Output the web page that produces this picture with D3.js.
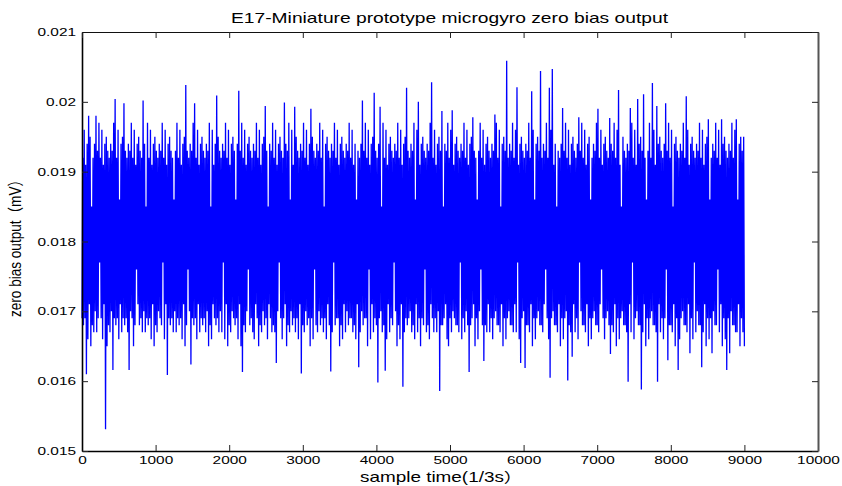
<!DOCTYPE html>
<html>
<head>
<meta charset="utf-8">
<script src="https://cdn.jsdelivr.net/npm/d3@7"></script>
<style>
  body { margin: 0; background: #fff; }
  text { font-family: "Liberation Sans", Arial, "Noto Sans CJK SC", sans-serif; fill: #000; }
</style>
</head>
<body>
<div id="chart"></div>
<script>
// zero bias output (mV), one reading every 10 samples
const sampleStep = 10;
const biasOutput = [
  .0169,.0192,.0168,.0196,.0169,.0191,.0161,.0194,.0166,.0198,.0171,.0195,.0165,.0185,.0168,.0192,.0167,.0194,.0170,.0198,
  .0167,.0193,.0169,.0197,.0177,.0192,.0169,.0196,.0166,.0191,.0171,.0194,.01531,.0195,.0165,.0193,.0168,.0192,.0167,.0194,
  .0170,.0193,.01616,.0197,.0169,.02004,.0168,.0192,.0169,.0196,.0166,.0186,.0171,.0194,.0167,.0195,.0169,.01998,.0168,.0193,
  .0169,.0192,.0167,.0194,.01616,.0193,.0170,.0197,.0169,.0192,.0165,.0196,.0168,.0191,.0176,.0194,.0171,.0195,.0168,.0193,
  .0169,.0192,.0167,.02002,.0170,.0194,.0167,.0185,.0169,.0197,.0168,.0192,.0169,.0196,.0166,.0191,.0171,.0194,.0165,.0195,
  .0168,.0193,.0167,.0192,.0170,.0194,.0169,.0193,.0168,.0197,.0177,.0192,.0166,.0196,.0171,.0191,.01609,.0194,.0169,.0195,
  .0168,.0193,.0169,.0192,.0167,.0186,.0170,.0193,.0167,.0197,.0169,.0192,.0168,.0196,.0169,.0191,.0166,.0194,.0171,.0195,
  .0165,.02024,.0168,.0193,.0176,.0192,.0170,.0194,.01624,.0193,.0169,.0197,.0168,.01998,.0169,.0192,.0166,.0196,.0171,.0191,
  .0167,.0194,.0169,.0195,.0168,.0193,.0169,.0192,.0167,.0194,.0170,.0193,.0165,.0197,.0168,.0185,.0166,.0196,.0171,.0191,
  .0169,.0194,.0168,.02009,.0169,.0195,.0167,.0193,.0170,.0192,.0167,.0194,.0177,.0193,.0166,.0197,.0171,.0192,.0165,.0196,
  .0168,.0191,.0167,.0194,.0170,.0195,.0169,.0193,.0168,.0186,.0169,.0194,.0166,.02016,.0171,.0193,.0165,.0197,.01613,.0192,
  .0168,.0196,.0167,.0191,.0170,.0194,.0176,.0195,.0168,.0193,.0169,.0192,.0167,.0194,.0166,.0193,.0171,.0197,.0169,.0192,
  .0165,.0196,.0168,.0191,.0167,.0194,.0170,.0195,.0168,.01994,.0169,.0193,.0166,.0185,.0171,.0194,.0169,.0193,.0167,.0197,
  .0168,.0192,.0167,.0196,.01626,.0191,.0170,.0194,.0177,.0195,.0169,.0193,.0166,.0192,.0169,.01999,.0171,.0194,.0165,.0193,
  .0168,.0197,.0167,.0186,.0170,.0196,.0168,.0191,.0169,.01993,.0167,.0195,.0169,.0193,.0166,.0192,.0171,.0194,.01611,.0193,
  .0168,.0197,.0167,.0192,.0170,.0196,.0168,.0191,.0169,.0194,.0165,.0199,.0169,.0195,.0166,.0193,.0176,.0192,.0168,.0194,
  .0167,.0193,.0170,.0197,.0168,.0192,.0169,.0196,.0167,.0185,.0169,.0194,.0166,.0195,.0171,.0193,.0168,.0192,.01614,.0194,
  .0167,.0193,.0177,.0197,.0168,.0192,.0169,.0196,.0169,.0191,.0165,.0194,.0168,.0195,.0166,.0193,.0171,.0192,.0167,.0194,
  .0170,.0193,.0168,.0197,.0169,.0192,.0169,.0196,.0167,.0191,.0168,.0194,.0166,.0186,.0171,.0193,.0162,.0192,.0167,.0194,
  .0170,.02002,.0168,.0193,.0169,.0197,.0169,.0192,.0165,.0196,.0176,.0191,.0166,.0194,.0171,.0195,.0167,.02013,.0169,.0193,
  .0168,.0192,.01598,.0194,.0169,.01993,.0170,.0185,.0167,.0197,.0168,.0192,.01615,.0196,.0166,.0191,.0171,.0194,.0167,.0195,
  .0169,.0193,.0168,.0192,.0177,.0194,.0170,.0193,.0165,.0197,.0168,.0192,.0166,.0196,.0171,.0191,.01592,.0194,.0167,.0195,
  .0169,.0202,.0168,.0193,.0169,.0192,.0170,.0194,.0167,.0193,.0168,.0197,.0166,.0186,.0171,.0196,.0167,.0200,.0169,.0191,
  .0165,.0194,.0169,.0195,.0168,.0193,.0176,.0192,.0167,.0194,.0168,.0193,.0166,.0197,.0171,.02028,.0169,.0192,.0167,.0196,
  .0169,.0191,.0167,.0194,.0170,.0195,.01586,.0193,.0168,.01987,.0168,.0185,.0169,.0194,.0171,.0193,.0166,.0197,.0165,.0192,
  .0169,.0196,.0167,.01988,.0170,.0191,.0169,.0194,.0168,.0195,.0168,.0193,.0167,.0192,.0177,.0194,.0166,.0193,.0169,.0197,
  .0167,.0192,.0170,.0196,.0168,.0191,.01613,.0194,.0168,.0195,.0169,.01978,.0171,.0193,.0165,.0192,.0169,.0186,.0166,.0193,
  .0170,.0197,.0176,.0192,.0168,.0196,.01629,.0191,.0168,.0194,.0167,.0195,.0171,.0193,.0167,.0192,.0169,.0194,.0166,.0193,
  .0169,.01982,.0170,.0197,.0168,.0192,.0168,.0196,.0167,.0185,.0171,.0194,.0165,.0195,.0169,.0193,.0166,.02059,.0169,.0192,
  .0170,.0194,.0168,.0193,.0168,.0197,.0167,.0192,.0171,.0196,.0167,.02021,.0177,.0191,.0166,.0194,.01626,.0195,.0169,.0193,
  .0170,.0192,.01619,.0194,.0168,.0193,.0168,.0197,.0167,.0192,.0171,.02015,.0165,.0196,.0169,.0186,.0166,.0194,.0169,.0195,
  .0170,.0193,.0168,.02044,.0168,.0192,.0167,.0194,.0171,.0193,.0176,.0197,.0169,.0192,.0166,.0202,.01605,.0196,.0169,.02047,
  .0170,.0191,.0168,.0194,.0168,.0185,.0167,.0193,.0171,.0192,.0165,.0194,.0169,.01991,.0166,.0193,.0169,.0197,.0170,.0192,
  .01601,.0196,.0168,.0191,.0167,.0194,.01635,.0195,.0171,.0193,.0167,.0192,.0169,.0194,.0166,.01978,.0177,.0193,.0170,.0197,
  .0168,.0192,.0168,.0196,.0167,.0191,.0171,.0194,.0165,.0195,.0169,.0186,.0166,.0192,.0169,.0194,.0170,.0193,.0168,.0197,
  .0168,.0199,.0167,.0192,.0171,.0196,.0176,.0191,.0169,.0194,.0166,.0195,.0169,.0193,.0170,.0192,.0168,.01977,.01639,.0194,
  .0168,.0193,.0167,.0197,.0171,.0192,.0165,.0196,.0169,.02017,.0166,.0191,.0169,.0185,.0170,.0195,.0168,.0193,.0168,.0192,
  .0167,.0194,.01599,.0193,.0171,.01991,.0167,.0197,.0177,.0192,.0166,.0196,.0169,.0191,.0170,.02004,.0168,.0194,.0168,.0195,
  .01588,.0193,.0167,.02011,.0171,.0192,.0165,.0186,.0169,.0193,.0166,.0197,.0169,.0192,.0170,.02027,.0168,.0196,.0168,.0191,
  .0167,.01994,.01599,.0194,.0171,.0195,.0167,.0193,.0169,.0192,.0166,.0194,.0169,.01998,.0176,.0193,.0163,.0197,.0168,.0192,
  .0168,.0196,.0167,.0185,.0171,.0194,.0165,.0195,.0169,.0193,.01616,.0192,.0166,.0194,.0169,.0193,.0170,.0197,.0168,.0192,
  .0168,.02008,.0167,.0196,.0171,.0191,.0164,.0194,.0169,.0195,.0166,.0193,.0177,.0192,.0167,.0194,.0170,.0193,.0168,.0197,
  .0168,.0192,.0162,.0196,.0167,.0191,.0171,.0194,.0165,.0195,.0169,.01975,.0166,.0186,.0169,.0192,.0164,.0194,.0170,.0193,
  .0168,.0197,.0168,.0192,.0176,.0196,.0167,.0191,.0171,.01975,.0165,.0194,.0169,.0195,.0166,.0193,.01616,.0192,.0169,.0194,
  .0164,.0193,.0170,.0197,.0168,.0192,.0168,.0196,.0167,.01975,.0167,.0186,.0171,.0194,.0165,.0195,.0169,.0193,.0167,.0195,
  .0165
];

const xTicks = [0, 1000, 2000, 3000, 4000, 5000, 6000, 7000, 8000, 9000, 10000];
const yTicks = [0.015, 0.016, 0.017, 0.018, 0.019, 0.02, 0.021];
const yTickLabels = ["0.015", "0.016", "0.017", "0.018", "0.019", "0.02", "0.021"];

const titleText = "E17-Miniature prototype microgyro zero bias output";
const xLabelText = "sample time(1/3s）";
const yLabelText = "zero bias output（mV）";

// layout
const W = 842, H = 486;
const margin = { top: 32, right: 24, bottom: 35, left: 82 };
const width = W - margin.left - margin.right,
    height = H - margin.top - margin.bottom;
const sx = 1.4; // the original picture is stretched sideways

const svg = d3.select("#chart")
    .append("svg")
    .attr("width", W)
    .attr("height", H);

const g = svg.append("g")
    .attr("transform", `translate(${margin.left},${margin.top})`);

const x = d3.scaleLinear().domain([0, 10000]).range([0, width]);
const y = d3.scaleLinear().domain([0.015, 0.021]).range([height, 0]);

// signal
g.append("path")
    .datum(biasOutput)
    .attr("fill", "none")
    .attr("stroke", "#0000ff")
    .attr("stroke-width", 1.3)
    .attr("d", d3.line()
        .x((d, i) => x(i * sampleStep))
        .y(d => y(d)));

// axes (ticks point inwards)
const axisB = g.append("g")
    .attr("transform", `translate(0,${height})`)
    .call(d3.axisBottom(x).tickValues(xTicks).tickFormat(d3.format("d"))
        .tickSizeInner(-6).tickSizeOuter(0).tickPadding(5));
axisB.selectAll("text")
    .attr("font-size", 11)
    .attr("transform", `scale(${sx},1)`);

const axisL = g.append("g")
    .call(d3.axisLeft(y).tickValues(yTicks).tickFormat((d, i) => yTickLabels[i])
        .tickSizeInner(-6).tickSizeOuter(0));
axisL.selectAll("text")
    .attr("font-size", 11)
    .attr("x", -6 / sx)
    .attr("transform", `scale(${sx},1)`);

const axisT = g.append("g")
    .call(d3.axisTop(x).tickValues(xTicks).tickSizeInner(-6).tickSizeOuter(0).tickFormat(""));
const axisR = g.append("g")
    .attr("transform", `translate(${width},0)`)
    .call(d3.axisRight(y).tickValues(yTicks).tickSizeInner(-6).tickSizeOuter(0).tickFormat(""));

[axisB, axisL, axisT, axisR].forEach(a => {
    a.selectAll(".tick line").attr("stroke", "#222").attr("stroke-width", 1);
});
axisB.select(".domain").attr("stroke", "#000").attr("stroke-width", 1.6);
axisL.select(".domain").attr("stroke", "#000").attr("stroke-width", 1.6);
axisT.select(".domain").attr("stroke", "#111").attr("stroke-width", 1.2);
axisR.select(".domain").attr("stroke", "#555").attr("stroke-width", 2);

// title and axis labels
svg.append("text")
    .attr("x", 231).attr("y", 23)
    .attr("font-size", 15)
    .attr("textLength", 437)
    .attr("lengthAdjust", "spacingAndGlyphs")
    .text(titleText);

svg.append("text")
    .attr("transform", `translate(360,482) scale(1.35,1)`)
    .attr("font-size", 14)
    .text(xLabelText);

svg.append("text")
    .attr("transform", `translate(20.5,317) scale(1.3,1) rotate(-90)`)
    .attr("font-size", 12.5)
    .attr("textLength", 144)
    .attr("lengthAdjust", "spacingAndGlyphs")
    .text(yLabelText);
</script>
</body>
</html>
